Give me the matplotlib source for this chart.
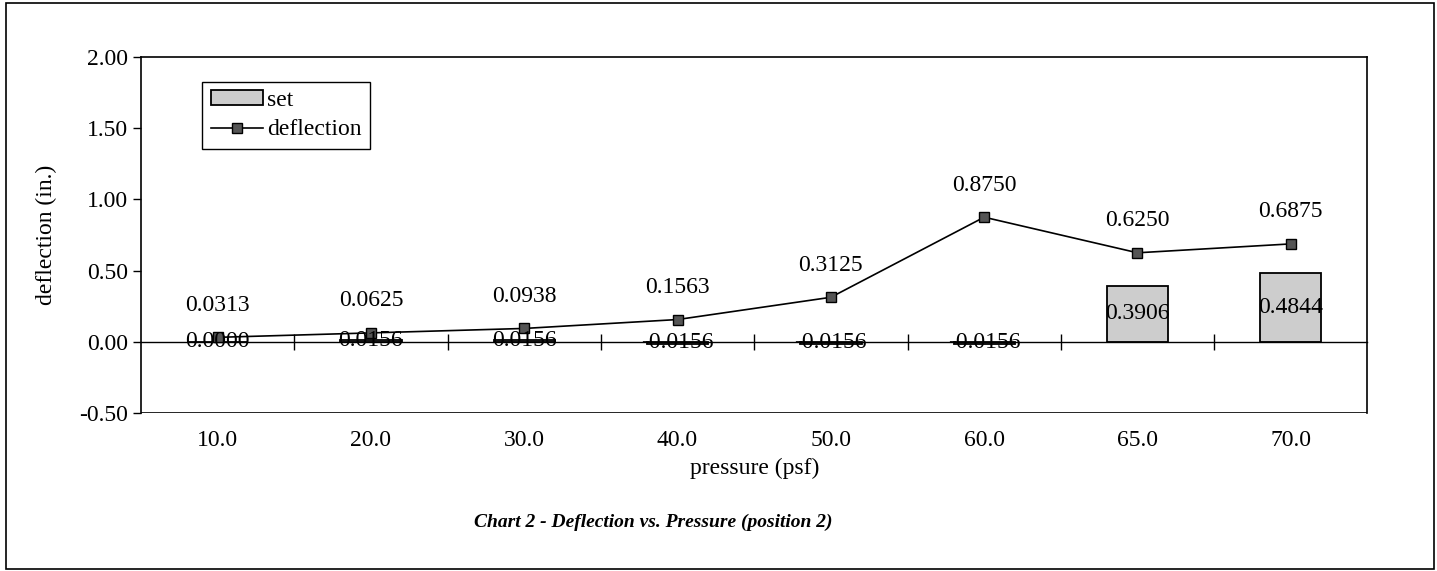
import matplotlib.pyplot as plt
import matplotlib.patches as patches
import matplotlib.transforms as mtransforms
import numpy as np

plt.rcParams['font.family'] = ['Liberation Serif', 'DejaVu Serif']

pressure = ["10.0", "20.0", "30.0", "40.0", "50.0", "60.0", "65.0", "70.0"]
set_vals = [0.0000, 0.0156, 0.0156, -0.0156, -0.0156, -0.0156, 0.3906, 0.4844]
deflection = [0.0313, 0.0625, 0.0938, 0.1563, 0.3125, 0.8750, 0.6250, 0.6875]
yticks = [-0.50, 0.00, 0.50, 1.00, 1.50, 2.00]

fs = 17

fig = plt.figure(figsize=(14.37, 5.71), dpi=100)
ax = fig.add_axes([0.0981, 0.2767, 0.8535, 0.6235])

x = np.arange(len(pressure))

bars = ax.bar(x, set_vals, width=0.4, color='#cdcdcd', edgecolor='black', linewidth=1.3,
              label='set', zorder=2)
line, = ax.plot(x, deflection, color='black', linewidth=1.2, marker='s', markersize=7,
                markerfacecolor='#555555', markeredgecolor='black', label='deflection', zorder=3)

# labels
for xi, v in zip(x, deflection):
    ax.annotate(f"{v:.4f}", (xi, v), xytext=(0, 23), textcoords='offset points',
                ha='center', va='center', fontsize=fs, zorder=4)
for xi, v in zip(x, set_vals):
    ax.text(xi, v / 2, f"{v:.4f}", ha='center', va='center', fontsize=fs, zorder=4)

ax.set_xlim(-0.5, len(pressure) - 0.5)
ax.set_ylim(-0.5, 2.0)
ax.set_yticks(yticks)
ax.set_yticklabels([f"{t:.2f}" for t in yticks], fontsize=fs)
ax.tick_params(axis='y', direction='out', length=6, width=1)

# category axis sits at zero, frame line stays at bottom
ax.spines['bottom'].set_position(('data', 0))
ax.spines['bottom'].set_linewidth(1)
ax.axhline(-0.5, color='black', linewidth=1.2, zorder=1)
for s in ['left', 'top', 'right']:
    ax.spines[s].set_linewidth(1.2)
ax.set_xticks(np.arange(0.5, len(pressure) - 0.5, 1.0))
ax.set_xticklabels([])
ax.tick_params(axis='x', direction='inout', length=12, width=1)

trans = mtransforms.blended_transform_factory(ax.transData, ax.transAxes)
for xi, lab in zip(x, pressure):
    ax.text(xi, -0.076, lab, transform=trans, ha='center', va='center', fontsize=fs)

ax.text(0.5, -0.157, "pressure (psf)", transform=ax.transAxes, ha='center', va='center',
        fontsize=fs)
fig.text(0.032, 0.588, "deflection (in.)", rotation=90, ha='center', va='center', fontsize=fs)
fig.text(0.4544, 0.086, "Chart 2 - Deflection vs. Pressure (position 2)", ha='center',
         va='center', fontsize=14, fontweight='bold', fontstyle='italic')

leg = ax.legend([bars, line], ['set', 'deflection'], loc='upper left',
                bbox_to_anchor=(0.05, 0.93), fontsize=fs, frameon=True,
                fancybox=False, edgecolor='black', framealpha=1, borderpad=0.35,
                labelspacing=0.35, handlelength=2.2, handleheight=0.6, handletextpad=0.2,
                borderaxespad=0)
leg.get_frame().set_linewidth(1)

# outer chart border
fig.patches.append(patches.Rectangle((0.004, 0.004), 0.994, 0.99, transform=fig.transFigure,
                                     fill=False, edgecolor='black', linewidth=1.2))

fig.savefig("out.png", dpi=100)
